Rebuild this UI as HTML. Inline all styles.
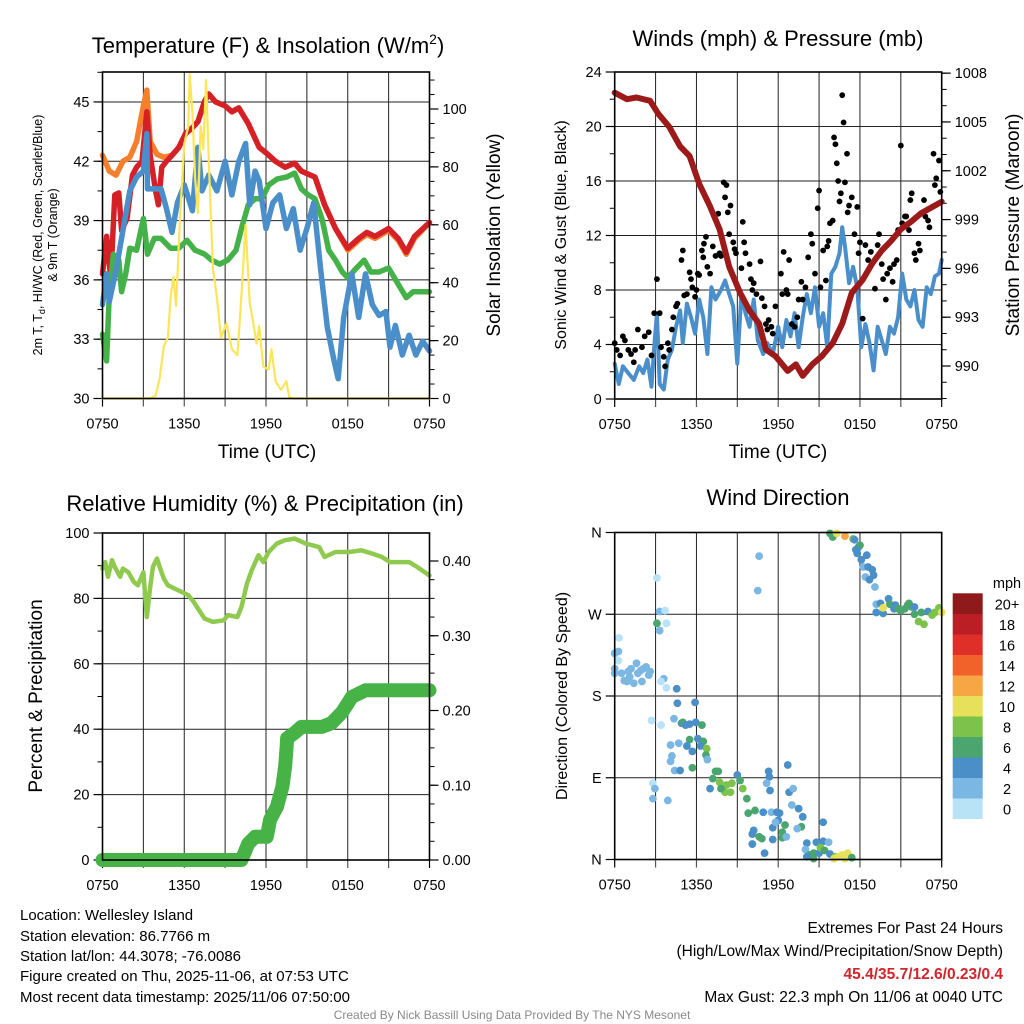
<!DOCTYPE html>
<html><head><meta charset="utf-8"><style>
html,body{margin:0;padding:0;background:#fff}
svg{display:block;font-family:"Liberation Sans",sans-serif}
</style></head><body>
<svg id="chart" xmlns="http://www.w3.org/2000/svg" width="1024" height="1024" viewBox="0 0 1024 1024">
<rect width="1024" height="1024" fill="#fff"/>
<g id="layer"></g>
<text x="268" y="53" font-size="22" text-anchor="middle">Temperature (F) &amp; Insolation (W/m<tspan dy="-9" font-size="14">2</tspan><tspan dy="9">)</tspan></text>
<text x="778" y="46" font-size="22" text-anchor="middle">Winds (mph) &amp; Pressure (mb)</text>
<text x="265" y="511" font-size="22" text-anchor="middle">Relative Humidity (%) &amp; Precipitation (in)</text>
<text x="778" y="505" font-size="22" text-anchor="middle">Wind Direction</text>
<text x="267" y="458" font-size="19" text-anchor="middle">Time (UTC)</text>
<text x="778" y="458" font-size="19" text-anchor="middle">Time (UTC)</text>
<g font-size="12.5" text-anchor="middle">
<text transform="translate(42,235) rotate(-90)">2m T, T<tspan dy="3" font-size="9">d</tspan><tspan dy="-3">, HI/WC (Red, Green, Scarlet/Blue)</tspan></text>
<text transform="translate(57,235) rotate(-90)">&amp; 9m T (Orange)</text>
</g>
<text transform="translate(500,235) rotate(-90)" font-size="19" text-anchor="middle">Solar Insolation (Yellow)</text>
<text transform="translate(566,235) rotate(-90)" font-size="16" text-anchor="middle">Sonic Wind &amp; Gust (Blue, Black)</text>
<text transform="translate(1019,225) rotate(-90)" font-size="19" text-anchor="middle">Station Pressure (Maroon)</text>
<text transform="translate(42,696) rotate(-90)" font-size="19" text-anchor="middle">Percent &amp; Precipitation</text>
<text transform="translate(567,696) rotate(-90)" font-size="16" text-anchor="middle">Direction (Colored By Speed)</text>
<g font-size="15">
<text x="20" y="920">Location: Wellesley Island</text>
<text x="20" y="941">Station elevation: 86.7766 m</text>
<text x="20" y="961">Station lat/lon: 44.3078; -76.0086</text>
<text x="20" y="981">Figure created on Thu, 2025-11-06, at 07:53 UTC</text>
<text x="20" y="1002">Most recent data timestamp: 2025/11/06 07:50:00</text>
</g>
<g font-size="15.5" text-anchor="end">
<text x="1003" y="933">Extremes For Past 24 Hours</text>
<text x="1003" y="956">(High/Low/Max Wind/Precipitation/Snow Depth)</text>
<text x="1003" y="979" fill="#d0252b" font-weight="bold">45.4/35.7/12.6/0.23/0.4</text>
<text x="1003" y="1002">Max Gust: 22.3 mph On 11/06 at 0040 UTC</text>
</g>
<text x="512" y="1019" font-size="12" fill="#888" text-anchor="middle">Created By Nick Bassill Using Data Provided By The NYS Mesonet</text>
</svg>
<script>
const timeTicks=["0750","1350","1950","0150","0750"];
const tempTicks=[30,33,36,39,42,45];
const solarTicks=[0,20,40,60,80,100];
const windTicks=[0,4,8,12,16,20,24];
const presTicks=[990,993,996,999,1002,1005,1008];
const rhTicks=[0,20,40,60,80,100];
const precipTicks=["0.00","0.10","0.20","0.30","0.40"];
const dirLabels=["N","E","S","W","N"];
const speedBins=["0","2","4","6","8","10","12","14","16","18","20+"];
const speedColors=["#b8e3f7","#7bb7e3","#4a8fc7","#4aa66e","#7dc24b","#e6e05a","#f7a646","#f1622b","#de3028","#bb1e25","#8f1a1c"];

const tHours=[0,0.3,0.6,0.9,1.2,1.4,1.8,2.2,2.5,2.9,3.25,3.5,3.9,4.1,4.35,4.7,5.1,5.6,6.1,6.6,7.0,7.5,7.8,8.3,9.0,9.5,10,10.7,11.5,12.05,12.7,13.4,14.1,14.6,15.6,16.3,17.1,18.0,18.8,19.4,20,21,21.7,22.3,22.9,24];
const tempRed=[36.3,38.2,36.1,40.3,40.4,38.5,39.1,41.3,41.7,42.0,44.5,42.3,40.5,39.8,41.7,42.0,42.3,42.7,43.4,43.7,44.0,45.05,45.4,45.0,44.8,44.5,44.7,43.9,42.7,42.4,42.0,41.7,41.9,41.5,41.2,39.8,38.6,37.6,38.1,38.4,38.2,38.6,38.1,37.4,38.2,38.9];
const oHours=[0,0.5,1,1.5,2,2.5,3,3.25,3.5,4,4.5,5.1,5.6,6.1,6.6,7.0,7.5,7.8,8.3,9.0,9.5,10,10.7,11.5,12.05,12.7,13.4,14.1,14.6,15.6,16.3,17.1,18.0,18.8,19.4,20,21,21.7,22.3,22.9,24];
const temp9m=[42.3,41.5,41.3,42.0,42.2,43.0,44.8,45.6,43.0,42.35,42.2,42.3,42.7,43.4,43.7,44.0,45.05,45.4,45.0,44.8,44.5,44.7,43.9,42.7,42.4,42.0,41.7,41.9,41.5,41.2,39.8,38.6,37.5,38.0,38.3,38.1,38.5,38.0,37.3,38.1,38.9];
const wcHours=[0,0.3,0.5,1,1.5,2,2.5,3,3.25,3.3,4.3,4.7,5.1,5.5,6,6.6,7,7.3,7.8,8.4,9,9.5,10,10.5,10.8,11.2,11.5,12,12.5,13,13.5,14,14.5,15,15.5,16,16.5,17,17.3,17.7,18.3,18.8,19.3,19.8,20.3,20.8,21.1,21.5,22,22.5,23,23.5,24];
const windChill=[34.75,36.3,34.9,36.5,38.5,40.5,41.2,41.5,43.4,40.6,40.6,39.6,38.4,39.9,40.8,39.5,42.7,40.5,41.3,40.5,42.0,40.3,42.0,42.9,39.8,41.5,41.0,38.6,39.9,40.3,38.6,39.6,37.5,38.6,39.9,36.6,33.6,31.9,31.0,34.1,36.3,34.1,36.3,34.75,34.2,34.4,32.6,33.7,32.2,33.2,32.2,32.9,32.4];
const dHours=[0,0.3,0.5,0.8,1.2,1.4,1.7,2,2.5,3,3.3,3.8,4.3,5,5.6,6.2,6.8,7.5,8,8.6,9.2,9.8,10.2,10.7,11.2,11.7,12.2,12.8,13.5,14.1,14.6,15.1,15.6,16.1,16.6,17.1,17.6,18,18.5,19.2,19.7,20.3,21,21.6,22.3,22.8,23.4,24];
const dewPoint=[33.25,31.9,35.3,37.3,37.0,35.4,36.3,37.6,37.5,39.1,37.3,38.1,38.1,37.6,37.6,38.0,37.5,37.3,37.0,36.8,37.0,37.5,38.6,39.8,40.1,40.1,40.8,41.1,41.2,41.4,40.6,40.3,40.1,39.1,37.5,37.0,36.4,36.1,36.5,37.0,36.4,36.4,36.6,35.9,35.1,35.4,35.4,35.4];
const sHours=[0,3.5,3.9,4.2,4.5,4.8,5,5.2,5.4,5.7,6,6.3,6.4,6.6,6.8,7,7.2,7.4,7.6,7.8,8.1,8.4,8.7,9.1,9.5,9.9,10.2,10.5,10.8,11,11.3,11.5,11.8,12.2,12.4,12.7,13.1,13.5,13.7,14,24];
const solar=[0,0,1,7,18,21,35,42,32,64,88,94,112,99,76,64,94,86,110,82,45,35,21,26,17,15,36,60,33,28,19,25,11,10,17,6,3,6,0.5,0,0];

const pHours=[0,0.9,1.6,2.6,3.2,4.0,4.8,5.5,6.2,7.0,7.7,8.4,9.2,9.9,10.6,11.1,11.8,12.7,13.3,13.8,14.5,15.2,16.0,16.7,17.4,18.2,18.9,19.6,20.3,21.0,21.8,22.5,24];
const pressure=[1006.8,1006.4,1006.5,1006.3,1005.5,1004.7,1003.5,1002.9,1001.2,999.8,998.4,996.1,994.5,993.4,992.6,991.0,990.6,989.7,990.1,989.4,990.1,990.6,991.4,992.6,994.5,995.3,996.3,997.1,997.7,998.4,998.9,999.4,1000.1];
const wHours=[0,0.3,0.6,1,1.4,1.8,2.1,2.4,2.7,2.9,3.1,3.3,3.6,3.9,4.2,4.5,4.8,5,5.3,5.6,5.9,6.2,6.5,6.8,7.1,7.4,7.8,8.1,8.4,8.7,9,9.3,9.6,9.9,10.2,10.5,10.9,11.2,11.6,12,12.3,12.6,12.9,13.2,13.5,13.8,14.1,14.4,14.7,15,15.3,15.6,15.9,16.2,16.5,16.7,16.9,17.2,17.5,17.8,18.1,18.4,18.7,19,19.3,19.6,19.9,20.2,20.5,20.8,21.1,21.4,21.7,22,22.3,22.6,22.9,23.2,23.5,23.8,24];
const windSpeed=[2.6,1.1,2.4,1.9,1.4,2.4,1.9,2.9,0.9,3.8,6.3,1.1,0.7,2.9,3.6,5.3,6.5,4.1,7.0,6.0,4.8,7.3,6.0,3.3,8.2,7.3,8.0,8.7,7.7,6.8,2.6,7.7,6.3,5.3,7.3,4.3,3.3,4.1,3.3,5.3,3.8,5.8,4.6,6.3,3.8,6.0,7.7,6.3,8.2,5.3,6.3,3.8,9.2,9.7,10.7,12.6,11.2,8.5,9.7,8.2,3.8,5.5,4.1,2.1,5.3,4.3,3.3,5.3,4.8,6.0,9.2,7.3,6.8,8.0,5.8,5.3,8.2,7.7,9.0,9.2,10.2];
const gHours=[0,0.15,0.4,0.6,0.75,1.0,1.2,1.4,1.5,1.7,2.0,2.2,2.5,2.7,2.9,3.1,3.3,3.4,3.6,3.7,3.9,4.0,4.2,4.3,4.5,4.6,4.9,5.0,5.1,5.3,5.5,5.6,5.7,5.9,6.0,6.1,6.2,6.4,6.5,6.55,6.7,6.8,7.0,7.2,7.4,7.6,7.7,7.8,8.0,8.1,8.2,8.3,8.4,8.5,8.7,8.8,8.9,9.3,9.4,9.5,9.6,9.9,10.0,10.1,10.2,10.4,10.7,10.8,11.0,11.1,11.2,11.3,11.5,11.6,11.8,12.2,12.3,12.4,12.6,12.7,12.8,13.0,13.2,13.4,13.5,13.7,13.8,14.0,14.2,14.4,14.5,14.7,14.9,15.0,15.1,15.3,15.5,15.6,15.7,15.8,16.0,16.1,16.2,16.3,16.4,16.5,16.6,16.7,16.8,16.9,17.05,17.1,17.2,17.4,17.6,17.8,17.9,18.0,18.2,18.4,18.6,18.8,19.1,19.3,19.4,19.6,19.7,19.9,20.0,20.2,20.4,20.5,20.7,20.8,21.0,21.1,21.3,21.4,21.6,21.7,21.8,22.0,22.1,22.3,22.4,22.7,22.8,23.0,23.1,23.3,23.4,23.5,23.6,23.8,23.9];
const gust=[4.1,3.6,3.2,4.6,4.3,3.6,3.3,2.7,3.6,5.1,3.8,4.6,4.9,3.2,6.3,8.8,6.3,3.8,3.1,2.4,4.1,3.6,5.1,6.0,6.8,7.0,10.2,10.9,7.6,7.7,9.3,8.8,8.2,7.5,8.0,9.2,9.1,10.9,10.4,11.4,11.9,9.7,9.2,11.2,10.5,13.6,10.7,10.5,15.9,14.8,15.7,13.7,12.1,14.2,11.5,11.0,10.7,9.6,13.0,11.5,10.7,9.9,8.8,8.0,8.5,7.7,10.1,7.4,6.8,5.5,5.1,5.8,5.3,4.8,6.8,9.2,7.7,10.8,8.0,7.7,10.2,5.5,5.3,6.0,7.3,8.6,7.3,8.2,10.4,12.1,11.4,9.2,14.0,15.3,8.2,10.9,8.7,11.2,11.6,12.9,13.1,19.2,18.7,17.3,16.0,14.5,15.1,22.3,20.3,15.9,18.0,13.7,14.2,14.8,12.1,14.1,10.7,11.5,5.9,11.3,10.2,10.8,8.1,11.3,12.1,9.9,8.8,7.3,9.2,9.6,8.6,9.9,10.2,12.4,18.6,12.9,13.4,13.4,12.4,14.6,15.1,10.7,10.2,11.4,10.9,14.6,13.4,13.1,12.6,14.1,18.0,15.7,16.2,17.5,15.2];

const rhHours=[0,0.2,0.4,0.7,0.9,1.3,1.5,1.9,2.3,2.6,3.0,3.25,3.5,3.7,4.0,4.2,4.5,4.8,5.3,5.8,6.3,6.7,7.0,7.5,8.1,8.9,9.2,9.9,10.2,10.6,10.95,11.45,11.8,12.2,12.8,13.4,14.1,14.9,15.9,16.3,17.1,18.1,19.0,19.8,20.5,21.1,21.7,22.5,23.1,24];
const relHum=[89.1,91.1,86.6,91.7,89.6,86.6,89.1,88.0,85.0,84.0,88.0,74.3,83.5,89.6,92.2,89.6,86.1,84.0,83.0,82.0,81.0,78.9,76.9,73.8,72.8,73.3,74.9,74.3,77.4,84.5,88.6,93.2,91.1,94.2,96.8,97.8,98.3,96.8,95.7,92.7,94.2,94.2,94.7,93.7,92.7,91.1,91.1,91.1,89.6,87.0];
const prHours=[0,10.2,10.7,11.2,12.06,12.3,12.8,13.2,13.4,13.5,13.55,14.1,14.6,16.1,16.8,17.6,18.3,19.3,24];
const precip=[0,0,0.022,0.031,0.031,0.054,0.071,0.098,0.125,0.147,0.163,0.17,0.178,0.178,0.183,0.198,0.218,0.227,0.227];

const dHoursW=[0,0.27,0,0.27,0.32,0,0.5,0.7,1.0,1.2,1.4,1.6,1.7,2.0,2.1,2.3,2.5,2.6,1.1,1.9,0.9,3.1,3.3,3.7,3.1,3.3,3.8,3.6,3.4,3.8,10.6,10.5,4.55,4.6,5.9,2.7,3.4,4.35,4.9,5.0,5.2,5.5,5.95,6.4,5.5,6.1,6.5,4.1,4.7,5.3,5.7,6.3,6.75,6.7,6.8,4.2,4.1,4.4,4.8,5.7,7.4,7.6,7.2,7.7,8.2,8.6,8.5,8.1,9.0,9.2,9.4,9.7,7.0,7.8,2.8,2.95,2.8,3.9,11.3,11.35,11.15,11.4,12.7,12.8,13.1,13.0,13.5,13.8,13.7,13.4,9.8,10.3,10.9,11.5,11.9,12.1,12.0,12.5,11.6,12.3,12.3,10.2,10.1,10.6,10.8,11.6,10.1,11.0,11.8,12.6,14.1,14.8,15.3,15.7,15.3,14.0,14.3,14.6,15.0,15.1,15.4,15.8,16.2,16.4,16.7,16.9,17.1,17.4,16.1,14.6,14.1,15.8,16.0,16.3,16.9,17.5,17.6,17.9,18.0,17.7,17.8,18.5,18.1,18.25,18.4,18.6,18.9,19.0,18.7,19.1,19.2,19.5,19.2,19.7,20.1,20.2,20.5,20.6,20.8,21.0,21.3,21.5,21.6,21.8,22.0,22.3,22.5,22.7,23.0,23.3,23.5,23.8,24,19.7,22.0];
const direction=[227,229,210,219,244,205,205,197,207,210,194,216,205,196,210,212,203,207,201,208,196,310,273,274,260,252,260,199,196,189,334,296,188,172,173,153,148,155,150,151,148,149,151,148,132,133,130,126,128,125,119,125,122,115,110,114,108,98,98,101,97,97,89,85,82,84,74,74,93,87,78,67,78,78,84,78,67,65,97,91,84,76,104,74,78,60,56,47,36,34,51,54,52,52,52,51,43,38,35,30,24,32,28,25,23,22,17,7,41,25,18,19,20,19,41,11,5,7,7,13,10,6,3,3,5,1,7,2,1,1,3,359,355,359,356,353,352,344,346,341,337,335,330,322,311,322,319,313,308,300,281,282,272,271,287,281,276,280,276,274,276,280,282,278,270,262,272,259,273,269,272,277,272,277,278];
const dirSpeed=[3,3,3,1,1,3,3,3,3,3,3,3,3,3,3,3,3,3,3,3,3,1,3,1,6,3,1,3,1,1,3,3,5,5,5,1,1,3,5,7,5,5,5,7,7,5,7,3,3,5,5,5,9,7,3,3,3,3,5,7,7,7,7,9,9,9,9,9,5,7,9,7,5,7,1,3,3,3,5,5,3,5,5,5,3,3,5,5,7,3,7,7,5,3,5,5,5,7,5,7,7,5,5,7,7,5,5,5,3,3,5,5,5,3,5,3,7,7,5,9,7,5,9,11,11,11,11,7,11,7,5,7,7,11,13,9,5,5,7,5,5,5,5,3,3,5,5,5,5,3,3,5,5,5,5,7,5,5,7,7,7,7,7,7,7,9,7,9,5,9,9,9,11,11,5,7];

const NS="http://www.w3.org/2000/svg";
const layer=document.getElementById("layer");
function mk(tag,attrs,parent){const e=document.createElementNS(NS,tag);for(const k in attrs)e.setAttribute(k,attrs[k]);(parent||layer).appendChild(e);return e;}
function group(name){const g=document.createElementNS(NS,"g");


layer.appendChild(g);return g;}

// panel geometry
const P1={x0:102.5,x1:429.5,y0:72,y1:398.5};
const P2={x0:614.7,x1:941.7,y0:72,y1:399};
const P3={x0:102.5,x1:429.5,y0:533,y1:860};
const P4={x0:614.7,x1:941.7,y0:532.5,y1:859.5};
function xs(P){return h=>P.x0+h*(P.x1-P.x0)/24;}
const x1s=xs(P1),x2s=xs(P2),x3s=xs(P3),x4s=xs(P4);
const yTemp=v=>398.5-(v-30)*19.77;
const ySolar=v=>398.5-v*2.895;
const yWind=v=>399-v*13.625;
const yPres=v=>366-(v-990)*16.27;
const yRH=v=>860-v*3.27;
const yPrecip=v=>860-v*747.5;
const yDir=d=>859.5-d*(327/360);

function frame(P,name){
  const g=group(name);
  for(let i=1;i<8;i++){const x=P.x0+i*(P.x1-P.x0)/8;
    const l=mk("line",{x1:x,x2:x,y1:P.y0,y2:P.y1,stroke:"#222","stroke-width":1},g);
    
    
    mk("line",{x1:x,x2:x,y1:P.y1,y2:P.y1+8,stroke:"#555","stroke-width":1.2},g);}
  mk("line",{x1:P.x0,x2:P.x0,y1:P.y1,y2:P.y1+8,stroke:"#000","stroke-width":1.2},g);
  mk("line",{x1:P.x1,x2:P.x1,y1:P.y1,y2:P.y1+8,stroke:"#000","stroke-width":1.2},g);
  timeTicks.forEach((t,i)=>{const tx=mk("text",{x:P.x0+i*(P.x1-P.x0)/4,y:P.y1+30,"font-size":14.5,"text-anchor":"middle"},g);tx.textContent=t;
    
    });
  return g;
}
function hgrid(P,g,y){mk("line",{x1:P.x0,x2:P.x1,y1:y,y2:y,stroke:"#222","stroke-width":1},g);}
function border(P){const r=mk("rect",{x:P.x0,y:P.y0,width:P.x1-P.x0,height:P.y1-P.y0,fill:"none",stroke:"#000","stroke-width":1.6});

}
function leftTicks(P,g,vals,yf,labels,minorStep,minorMin,minorMax){
  if(minorStep){for(let v=minorMin;v<=minorMax+1e-9;v+=minorStep){const y=yf(v);if(y<P.y0-0.5||y>P.y1+0.5)continue;mk("line",{x1:P.x0-5,x2:P.x0,y1:y,y2:y,stroke:"#000","stroke-width":1},g);}}
  vals.forEach((v,i)=>{const y=yf(v);mk("line",{x1:P.x0-9,x2:P.x0,y1:y,y2:y,stroke:"#000","stroke-width":1.2},g);
    const t=mk("text",{x:P.x0-13,y:y+5,"font-size":14.5,"text-anchor":"end"},g);t.textContent=labels?labels[i]:v;
    
    });
}
function rightTicks(P,g,vals,yf,labels,minorStep,minorMin,minorMax){
  if(minorStep){for(let v=minorMin;v<=minorMax+1e-9;v+=minorStep){const y=yf(v);if(y<P.y0-0.5||y>P.y1+0.5)continue;mk("line",{x1:P.x1,x2:P.x1+5,y1:y,y2:y,stroke:"#000","stroke-width":1},g);}}
  vals.forEach((v,i)=>{const y=yf(v);mk("line",{x1:P.x1,x2:P.x1+9,y1:y,y2:y,stroke:"#000","stroke-width":1.2},g);
    const t=mk("text",{x:P.x1+13,y:y+5,"font-size":14.5,"text-anchor":"start"},g);t.textContent=labels?labels[i]:v;
    
    });
}
function path(xf,yf,xsArr,vals,color,w,name,parent){
  let d="";xsArr.forEach((h,i)=>{d+=(i?"L":"M")+xf(h).toFixed(1)+","+yf(vals[i]).toFixed(1);});
  const p=mk("path",{d:d,fill:"none",stroke:color,"stroke-width":w,"stroke-linejoin":"round","stroke-linecap":"round"},parent);
  
  
  return p;
}

// Panel 1
let g1=frame(P1,"temperature-panel");
tempTicks.slice(1).forEach(v=>hgrid(P1,g1,yTemp(v)));
leftTicks(P1,g1,tempTicks,yTemp,null,1.5,30,46.5);
rightTicks(P1,g1,solarTicks,ySolar,null,5,0,110);
path(x1s,yTemp,oHours,temp9m,"#f57f2c",5.5,"temp-9m-line-orange");
path(x1s,yTemp,tHours,tempRed,"#d62027",5.5,"temp-2m-line-red");
path(x1s,yTemp,dHours,dewPoint,"#45b249",5.5,"dewpoint-line-green");
path(x1s,yTemp,wcHours,windChill,"#4a8fc9",5.5,"windchill-line-blue");
path(x1s,ySolar,sHours,solar,"#fde55a",2.2,"solar-insolation-line-yellow");
border(P1);

// Panel 2
let g2=frame(P2,"wind-panel");
windTicks.slice(1,-1).forEach(v=>hgrid(P2,g2,yWind(v)));
leftTicks(P2,g2,windTicks,yWind,null,2,0,24);
rightTicks(P2,g2,presTicks,yPres,null,1,988,1008);
path(x2s,yWind,wHours,windSpeed,"#4a8fc9",4,"sonic-wind-line-blue");
const gg=group("gust-points");
gHours.forEach((h,i)=>{const c=mk("circle",{cx:x2s(h),cy:yWind(gust[i]),r:2.9,fill:"#000"},gg);
  
  });
path(x2s,yPres,pHours,pressure,"#9c1a1a",6,"pressure-line-maroon");
border(P2);

// Panel 3
let g3=frame(P3,"humidity-panel");
rhTicks.slice(1,-1).forEach(v=>hgrid(P3,g3,yRH(v)));
leftTicks(P3,g3,rhTicks,yRH,null,10,0,100);
rightTicks(P3,g3,precipTicks.map(Number),yPrecip,precipTicks,0.025,0,0.4);
path(x3s,yRH,rhHours,relHum,"#8fca4f",4.5,"relative-humidity-line");
path(x3s,yPrecip,prHours,precip,"#47b347",14,"precipitation-accumulation");
border(P3);

// Panel 4
let g4=frame(P4,"direction-panel");
[90,180,270,360].forEach(v=>hgrid(P4,g4,yDir(v)));
leftTicks(P4,g4,[0,90,180,270,360],yDir,dirLabels,0,0,0);
const gd=group("direction-points");
dHoursW.forEach((h,i)=>{const s=dirSpeed[i];const bin=Math.min(10,Math.floor(s/2));
  const c=mk("circle",{cx:x4s(h),cy:yDir(direction[i]),r:3.9,fill:speedColors[bin]},gd);
  
  });
border(P4);

// colorbar
const gc=group("speed-colorbar");
const mt=mk("text",{x:1007,y:588,"font-size":14.5,"text-anchor":"middle"},gc);mt.textContent="mph";
speedBins.forEach((b,i)=>{const k=speedBins.length-1-i;const y=593.3+k*20.5;
  const r=mk("rect",{x:952.7,y:y,width:30,height:20.7,fill:speedColors[i]},gc);
  
  
  const t=mk("text",{x:1007,y:y+16,"font-size":14.5,"text-anchor":"middle"},gc);t.textContent=b;
  
  });
</script>
</body></html>
